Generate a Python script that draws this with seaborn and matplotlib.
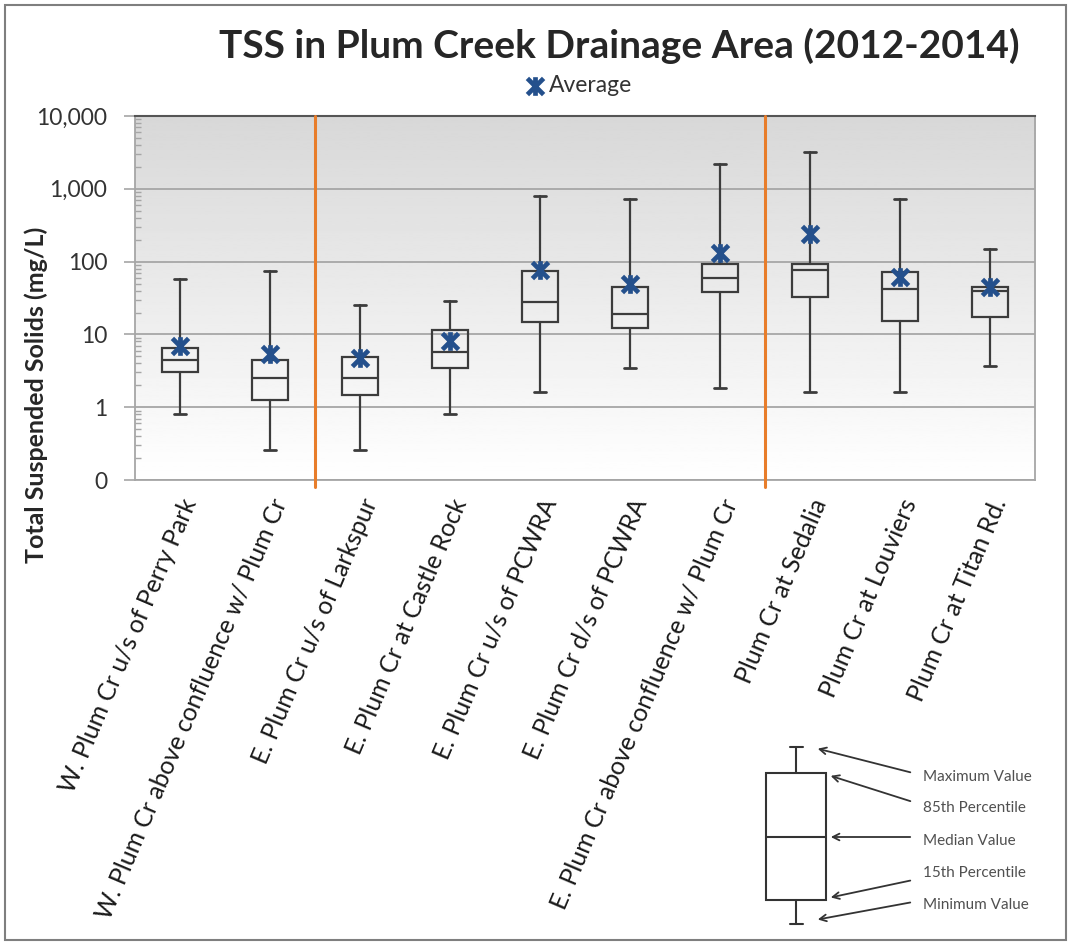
import numpy as np
import pandas as pd
import matplotlib
matplotlib.use("Agg")
import matplotlib.pyplot as plt
from matplotlib.path import Path
from matplotlib.patches import Rectangle
from matplotlib.ticker import FixedLocator, LogLocator, NullFormatter
import seaborn as sns

# 測站名稱
stations = [
    "W. Plum Cr u/s of Perry Park",
    "W. Plum Cr above confluence w/ Plum Cr",
    "E. Plum Cr u/s of Larkspur",
    "E. Plum Cr at Castle Rock",
    "E. Plum Cr u/s of PCWRA",
    "E. Plum Cr d/s of PCWRA",
    "E. Plum Cr above confluence w/ Plum Cr",
    "Plum Cr at Sedalia",
    "Plum Cr at Louviers",
    "Plum Cr at Titan Rd.",
]

# 統計值 (mg/L)
tss_min = [0.82, 0.26, 0.26, 0.82, 1.6, 3.5, 1.85, 1.6, 1.6, 3.7]
tss_p15 = [3.0, 1.26, 1.47, 3.5, 14.9, 12.1, 38, 33, 15.2, 17.2]
tss_median = [4.4, 2.5, 2.5, 5.8, 27.6, 19, 59, 77, 42, 39.5]
tss_p85 = [6.6, 4.4, 4.85, 11.5, 75, 45, 93, 92, 72, 45]
tss_max = [57, 74, 25, 29, 800, 730, 2170, 3170, 730, 150]
tss_avg = [6.9, 5.3, 4.7, 8.2, 76, 50, 132, 237, 62, 45]

# 區段分隔線（類別之間）
divider_positions = [1.5, 6.5]

y_ticks = [0.1, 1, 10, 100, 1000, 10000]
y_tick_labels = ["0", "1", "10", "100", "1,000", "10,000"]

sns.set_theme(style="white")
plt.rcParams["font.family"] = ["Lato", "DejaVu Sans"]

fig = plt.figure(figsize=(10.74, 9.47), dpi=100)
ax = fig.add_axes([0.1257, 0.4931, 0.838, 0.3844])

# 漸層背景（上深下淺）
grad = np.linspace(0.845, 1.0, 256).reshape(-1, 1)
ax.imshow(grad, cmap="gray", vmin=0, vmax=1, aspect="auto", origin="upper",
          extent=[0, 1, 0, 1], transform=ax.transAxes, zorder=0)

# 盒鬚圖（使用事先計算好的統計值）
stats = []
for i in range(len(stations)):
    stats.append({
        "whislo": tss_min[i], "q1": tss_p15[i], "med": tss_median[i],
        "q3": tss_p85[i], "whishi": tss_max[i], "label": stations[i],
    })
edge = "#3c3c3c"
ax.bxp(stats, positions=np.arange(len(stations)), widths=0.41,
       showfliers=False, patch_artist=True, capwidths=0.14,
       boxprops=dict(facecolor="none", edgecolor=edge, linewidth=1.6),
       medianprops=dict(color=edge, linewidth=1.6),
       whiskerprops=dict(color=edge, linewidth=1.6),
       capprops=dict(color=edge, linewidth=2.0),
       zorder=3)

# 平均值標記（Excel 星號）
star = Path([(-1, -1), (1, 1), (-1, 1), (1, -1), (0, -1.15), (0, 1.15)],
            [Path.MOVETO, Path.LINETO, Path.MOVETO, Path.LINETO,
             Path.MOVETO, Path.LINETO])
avg_df = pd.DataFrame({"pos": np.arange(len(stations)), "avg": tss_avg})
sns.scatterplot(data=avg_df, x="pos", y="avg", ax=ax, marker=star, s=180,
                color="#24508c", edgecolor="#24508c", linewidth=3.4,
                label="Average", zorder=5)

for xv in divider_positions:
    ax.axvline(xv, ymin=-0.02, ymax=1, color="#e87d2a", linewidth=2.2,
               clip_on=False, zorder=4)

ax.set_yscale("log")
ax.set_ylim(0.1, 10000)
ax.set_xlim(-0.5, len(stations) - 0.5)
ax.yaxis.set_major_locator(FixedLocator(y_ticks))
ax.set_yticklabels(y_tick_labels)
ax.yaxis.set_minor_locator(LogLocator(base=10, subs=np.arange(2, 10)))
ax.yaxis.set_minor_formatter(NullFormatter())
ax.grid(axis="y", which="major", color="#a6a6a6", linewidth=1.3, zorder=1)
ax.set_axisbelow(True)

ax.set_xticks(np.arange(len(stations)))
ax.set_xticklabels(stations, rotation=67, ha="right", va="top",
                   rotation_mode="anchor", fontsize=17.8, color="#1a1a1a")
ax.xaxis.set_minor_locator(FixedLocator(np.arange(-0.5, len(stations), 1.0)))
ax.tick_params(axis="x", which="major", length=0, pad=11)
ax.tick_params(axis="x", which="minor", length=6, color="#a6a6a6", width=1.2)
ax.tick_params(axis="y", which="major", length=8, color="#a6a6a6", width=1.2,
               labelsize=16.5, labelcolor="#333333", left=True, pad=12)
ax.tick_params(axis="y", which="minor", length=4, direction="in",
               color="#a6a6a6", width=1, left=True)

for side in ["left", "right", "bottom"]:
    ax.spines[side].set_color("#a6a6a6")
    ax.spines[side].set_linewidth(1.3)
ax.spines["top"].set_color("#555555")
ax.spines["top"].set_linewidth(1.5)

ax.set_xlabel("")
ax.set_ylabel("Total Suspended Solids (mg/L)", fontsize=18, fontweight="bold")
ax.yaxis.set_label_coords(-0.097, 0.235)

leg = ax.legend(loc="center", bbox_to_anchor=(0.493, 1.085), frameon=False,
                fontsize=16.5, handlelength=0.9, handletextpad=0.15,
                borderaxespad=0)
for t in leg.get_texts():
    t.set_color("#333333")

fig.text(0.577, 0.952, "TSS in Plum Creek Drainage Area (2012-2014)",
         ha="center", va="center", fontsize=28, fontweight="bold")

# 圖例說明框（右下角示意盒鬚圖）
key = fig.add_axes([0, 0, 1, 1], facecolor="none")
key.set_xlim(0, 1074)
key.set_ylim(947, 0)
key.axis("off")
kc = "#333333"
key.add_patch(Rectangle((766, 773), 60, 127, fill=False, edgecolor=kc,
                        linewidth=1.5))
key.plot([766, 826], [837, 837], color=kc, linewidth=1.5)
key.plot([796, 796], [747, 773], color=kc, linewidth=1.5)
key.plot([796, 796], [900, 924], color=kc, linewidth=1.5)
key.plot([790, 803], [747, 747], color=kc, linewidth=1.5)
key.plot([790, 803], [924, 924], color=kc, linewidth=1.5)

key_labels = ["Maximum Value", "85th Percentile", "Median Value",
              "15th Percentile", "Minimum Value"]
label_y = [777, 808, 841, 873, 905]
arrow_tail = [(913, 773), (913, 802), (913, 837), (913, 880), (913, 902)]
arrow_head = [(815, 748), (828, 775), (828, 837), (828, 898), (815, 920)]
for txt, ly, tail, head in zip(key_labels, label_y, arrow_tail, arrow_head):
    key.text(923, ly, txt, fontsize=11, color="#505050", va="center")
    key.annotate("", xy=head, xytext=tail,
                 arrowprops=dict(arrowstyle="->", color=kc, linewidth=1.3))

# 外框
fig.patches.append(Rectangle((5 / 1074, 7 / 947), 1061 / 1074, 935 / 947,
                             transform=fig.transFigure, fill=False,
                             edgecolor="#7f7f7f", linewidth=1.5))

fig.savefig("out.png", dpi=100)
